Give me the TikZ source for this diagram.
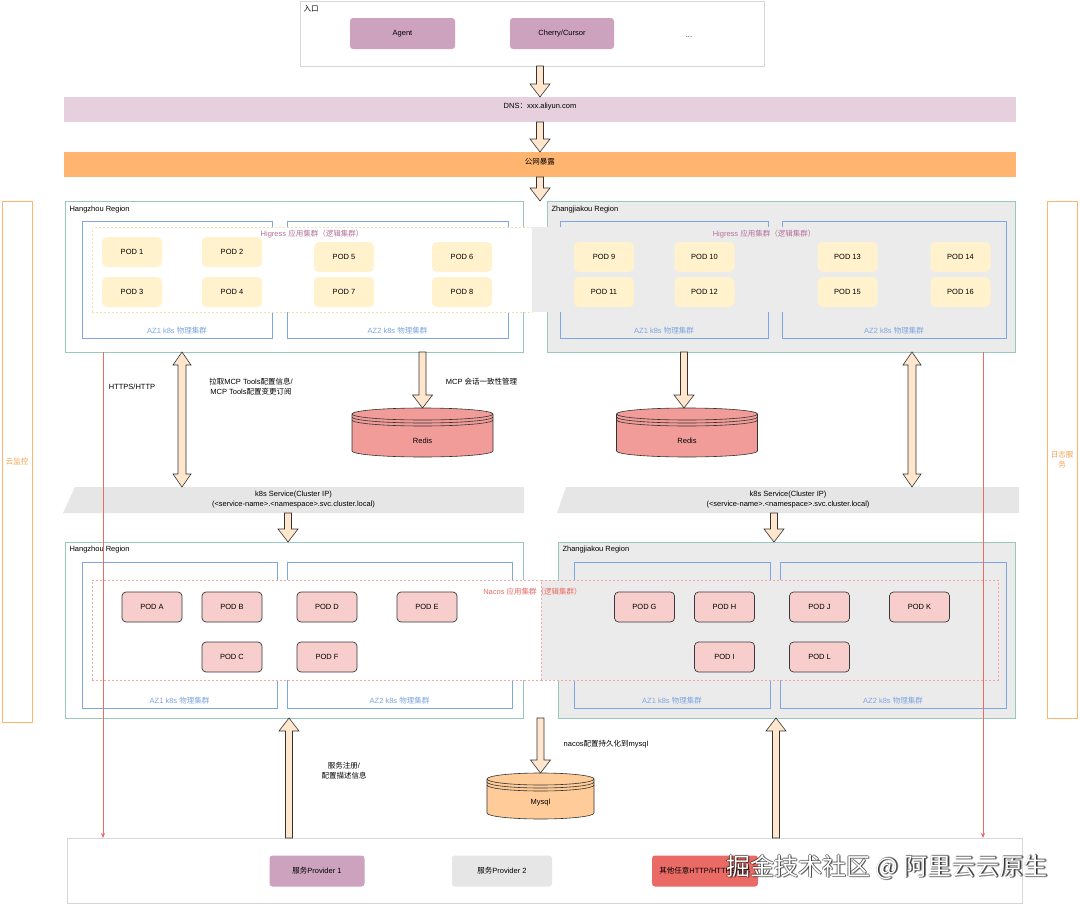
\documentclass[tikz,border=0pt]{standalone}
\usepackage{fontspec}
\setmainfont{Liberation Sans}
\newfontfamily\cjk{Noto Sans CJK SC}
\usetikzlibrary{calc,fit,arrows.meta}
\definecolor{purp}{HTML}{CDA2BE}
\definecolor{dnsc}{HTML}{E6D0DE}
\definecolor{orng}{HTML}{FFB570}
\definecolor{orngT}{HTML}{F2A24E}
\definecolor{regb}{HTML}{9AC7BF}
\definecolor{azb}{HTML}{7EA6E0}
\definecolor{podYc}{HTML}{FFF2CC}
\definecolor{podRc}{HTML}{F8CECC}
\definecolor{podRb}{HTML}{36393D}
\definecolor{grayF}{HTML}{E6E6E6}
\definecolor{regG}{HTML}{EBEBEB}
\definecolor{peach}{HTML}{FFE6CC}
\definecolor{arrowb}{HTML}{333333}
\definecolor{redisc}{HTML}{F19C99}
\definecolor{mysqlc}{HTML}{FFCC99}
\definecolor{redl}{HTML}{EA6B66}
\definecolor{higl}{HTML}{B5739D}
\definecolor{hidash}{HTML}{EEE3A8}
\definecolor{nacd}{HTML}{F4A6A6}
\definecolor{lightg}{HTML}{D6D6D6}
\newcommand\dstore[2]{%
  \filldraw[fill=#2, draw=arrowb, line width=0.6pt] let \p1=(#1.north west), \p2=(#1.south east), \n1={0.5*(\x2-\x1)} in
    (\x1,\y1-6pt) -- (\x1,\y2+6pt) arc[start angle=180, end angle=360, x radius=\n1, y radius=6pt]
    -- (\x2,\y1-6pt) arc[start angle=0, end angle=180, x radius=\n1, y radius=6pt] -- cycle;
  \draw[draw=arrowb, line width=0.6pt] let \p1=(#1.north west), \p2=(#1.south east), \n1={0.5*(\x2-\x1)} in
    (\x1,\y1-6pt) arc[start angle=180, end angle=360, x radius=\n1, y radius=6pt]
    (\x1,\y1-9pt) arc[start angle=180, end angle=360, x radius=\n1, y radius=6pt]
    (\x1,\y1-12pt) arc[start angle=180, end angle=360, x radius=\n1, y radius=6pt];
}
\begin{document}
\begin{tikzpicture}[x=1pt,y=-1pt,
  font=\fontsize{7.5}{10}\selectfont,
  rect/.style={rectangle, inner sep=0pt, outer sep=0pt},
  region/.style={rect, draw=regb, line width=0.8pt},
  azbox/.style={rect, draw=azb, line width=0.7pt},
  azlabel/.style={text=azb},
  podY/.style={rect, fill=podYc, rounded corners=5pt, minimum width=60pt, minimum height=30pt},
  podR/.style={rect, fill=podRc, draw=podRb, line width=0.7pt, rounded corners=4pt, minimum width=60pt, minimum height=30pt},
  btn/.style={rect, rounded corners=3pt, minimum width=95pt, minimum height=31pt},
  rail/.style={rect, draw=orng, line width=0.8pt, fill=white},
  fatstyle/.style={draw=arrowb, fill=peach, line width=0.6pt},
  fatdown/.style={fatstyle, to path={let \p1=(\tikztostart), \p2=(\tikztotarget) in
     (\x1-3.5pt,\y1) -- (\x1-3.5pt,\y2+13pt) -- (\x1-10pt,\y2+13pt) -- (\x1,\y2) -- (\x1+10pt,\y2+13pt) -- (\x1+3.5pt,\y2+13pt) -- (\x1+3.5pt,\y1) -- cycle}},
  fatup/.style={fatstyle, to path={let \p1=(\tikztostart), \p2=(\tikztotarget) in
     (\x1-3.5pt,\y1) -- (\x1-3.5pt,\y2-13pt) -- (\x1-10pt,\y2-13pt) -- (\x1,\y2) -- (\x1+10pt,\y2-13pt) -- (\x1+3.5pt,\y2-13pt) -- (\x1+3.5pt,\y1) -- cycle}},
  fatboth/.style={fatstyle, to path={let \p1=(\tikztostart), \p2=(\tikztotarget) in
     (\x1,\y1) -- (\x1+9pt,\y1-13pt) -- (\x1+4pt,\y1-13pt) -- (\x1+4pt,\y2+13pt) -- (\x1+9pt,\y2+13pt) -- (\x1,\y2)
     -- (\x1-9pt,\y2+13pt) -- (\x1-4pt,\y2+13pt) -- (\x1-4pt,\y1-13pt) -- (\x1-9pt,\y1-13pt) -- cycle}},
  redline/.style={draw=redl, line width=0.6pt, -{Stealth[length=5pt,width=4pt]}}
]
\useasboundingbox (0,0) rectangle (1080,905);
\fill[white] (0,0) rectangle (1080,905);

% column coordinates
\coordinate (colA) at (182,0);
\coordinate (colB) at (912,0);
\coordinate (colC) at (288,0);
\coordinate (colD) at (289,0);
\coordinate (colE) at (776,0);
\coordinate (colF) at (774,0);
\coordinate (colG) at (684,0);
\coordinate (redA) at (103,0);
\coordinate (redB) at (983,0);

% side rails
\node[rail, fit={(2,201) (32,722)}] (railL) {};
\node[text=orngT] at (railL.center) {\cjk 云监控};
\node[rail, fit={(1047,201) (1077,718)}] (railR) {};
\node[text=orngT, align=center] at (railR.center) {\cjk 日志服\\\cjk 务};

% entry
\node[rect, draw=lightg, line width=0.6pt, fill=white, fit={(300,1) (764,66)}] (entry) {};
\node[anchor=west] at (300,9) {\cjk 入口};
\node[btn, fill=purp, minimum width=105pt] (agent) at (402.5,33.5) {Agent};
\node[btn, fill=purp, minimum width=104pt] (cherry) at (562,33.5) {Cherry/Cursor};
\node (dots) at (689,37) {...};

% bars
\node[rect, fill=dnsc, fit={(64,97) (1016,122)}] (dns) {DNS{\cjk ：}xxx.aliyun.com};
\node[rect, fill=orng, fit={(64,152) (1016,177)}] (pub) {\cjk 公网暴露};

% upper regions
\node[region, fill=white, fit={(65,201) (523,352)}] (hzU) {};
\node[region, fill=regG, fit={(547,201) (1015,352)}] (zjU) {};
\node[azbox, fit={(82,221) (272,338)}] (hzUa1) {};
\node[azbox, fit={(287,221) (508,338)}] (hzUa2) {};
\node[azbox, fit={(560,221) (768,338)}] (zjUa1) {};
\node[azbox, fit={(782,221) (1006,338)}] (zjUa2) {};
\node[rect, fill=white, draw=hidash, line width=0.7pt, dash pattern=on 2pt off 2pt, fit={(92,227) (532,312)}] (higH) {};
\node[rect, fill=regG, fit={(532,227) (996,312)}] (higZ) {};
\node[text=higl] at (312,234) {Higress {\cjk 应用集群（逻辑集群）}};
\node[text=higl] at (764,234) {Higress {\cjk 应用集群（逻辑集群）}};
\node[azlabel] at (177,331) {AZ1 k8s {\cjk 物理集群}};
\node[azlabel] at (397.5,331) {AZ2 k8s {\cjk 物理集群}};
\node[azlabel] at (664,331) {AZ1 k8s {\cjk 物理集群}};
\node[azlabel] at (894,331) {AZ2 k8s {\cjk 物理集群}};
\node[anchor=west] at (66,210) {Hangzhou Region};
\node[anchor=west] at (548,210) {Zhangjiakou Region};

\node[podY] (p1) at (132,252) {POD 1};
\node[podY] (p2) at (232,252) {POD 2};
\node[podY] (p3) at (132,292) {POD 3};
\node[podY] (p4) at (232,292) {POD 4};
\node[podY] (p5) at (344,257) {POD 5};
\node[podY] (p6) at (462,257) {POD 6};
\node[podY] (p7) at (344,292) {POD 7};
\node[podY] (p8) at (462,292) {POD 8};
\node[podY] (p9) at (604,257) {POD 9};
\node[podY] (p10) at (704.5,257) {POD 10};
\node[podY] (p11) at (604,292) {POD 11};
\node[podY] (p12) at (704.5,292) {POD 12};
\node[podY] (p13) at (847.5,257) {POD 13};
\node[podY] (p14) at (960.5,257) {POD 14};
\node[podY] (p15) at (847.5,292) {POD 15};
\node[podY] (p16) at (960.5,292) {POD 16};

% top arrows
\draw[fatdown] (entry.south -| dns.north) to (dns.north);
\draw[fatdown] (dns.south) to (pub.north);
\draw[fatdown] (pub.south) to (hzU.north -| pub.south);

% redis
\node[rect, minimum width=141pt, minimum height=49pt] (redisL) at (422.5,432.5) {};
\dstore{redisL}{redisc}
\node at ($(redisL.center)+(0,8)$) {Redis};
\node[rect, minimum width=141pt, minimum height=49pt] (redisR) at (687,432.5) {};
\dstore{redisR}{redisc}
\node at ($(redisR.center)+(0,8)$) {Redis};

% k8s service bars
\fill[grayF] (75,487) -- (524,487) -- (524,513) -- (63,513) -- cycle;
\fill[grayF] (566,487) -- (1019,487) -- (1019,513) -- (557,513) -- cycle;
\node[rect, minimum width=461pt, minimum height=26pt, align=center] (svcL) at (293.5,500) {k8s Service(Cluster IP)\\(<service-name>.<namespace>.svc.cluster.local)};
\node[rect, minimum width=462pt, minimum height=26pt, align=center] (svcR) at (788,500) {k8s Service(Cluster IP)\\(<service-name>.<namespace>.svc.cluster.local)};

% middle arrows and labels
\draw[fatboth] (hzU.south -| colA) to (svcL.north -| colA);
\draw[fatdown] (hzU.south -| redisL.north) to (redisL.north);
\draw[fatdown] (zjU.south -| colG) to (redisR.north -| colG);
\draw[fatboth] (zjU.south -| colB) to (svcR.north -| colB);
\node (https) at (132,387) {HTTPS/HTTP};
\node[align=center] (pull) at (251,387) {{\cjk 拉取}MCP Tools{\cjk 配置信息}/\\MCP Tools{\cjk 配置变更订阅}};
\node (mcpss) at (481.5,382) {MCP {\cjk 会话一致性管理}};

% lower regions
\node[region, fill=white, fit={(65,542) (523,718)}] (hzL) {};
\node[region, fill=regG, fit={(558,542) (1015,718)}] (zjL) {};
\node[azbox, fit={(82,562) (277,708)}] (hzLa1) {};
\node[azbox, fit={(287,562) (512,708)}] (hzLa2) {};
\node[azbox, fit={(574,562) (770,708)}] (zjLa1) {};
\node[azbox, fit={(780,562) (1006,708)}] (zjLa2) {};
\node[rect, fill=white, draw=nacd, line width=0.7pt, dash pattern=on 2pt off 2pt, fit={(92,580) (541,680)}] (nacH) {};
\node[rect, fill=regG, draw=nacd, line width=0.7pt, dash pattern=on 2pt off 2pt, fit={(541,580) (998,680)}] (nacZ) {};
\node[text=redl] at (532.5,592) {Nacos {\cjk 应用集群（逻辑集群）}};
\node[azlabel] at (179.5,701) {AZ1 k8s {\cjk 物理集群}};
\node[azlabel] at (399.5,701) {AZ2 k8s {\cjk 物理集群}};
\node[azlabel] at (672,701) {AZ1 k8s {\cjk 物理集群}};
\node[azlabel] at (893,701) {AZ2 k8s {\cjk 物理集群}};
\node[anchor=west] at (66,550) {Hangzhou Region};
\node[anchor=west] at (559,550) {Zhangjiakou Region};

\node[podR] (pa) at (152,607) {POD A};
\node[podR] (pb) at (232,607) {POD B};
\node[podR] (pd) at (327,607) {POD D};
\node[podR] (pe) at (427,607) {POD E};
\node[podR] (pc) at (232,657) {POD C};
\node[podR] (pf) at (327,657) {POD F};
\node[podR] (pg) at (644.5,607) {POD G};
\node[podR] (ph) at (724.5,607) {POD H};
\node[podR] (pj) at (819.5,607) {POD J};
\node[podR] (pk) at (919.5,607) {POD K};
\node[podR] (pi) at (724.5,657) {POD I};
\node[podR] (pl) at (819.5,657) {POD L};

\draw[fatdown] (svcL.south -| colC) to (hzL.north -| colC);
\draw[fatdown] (svcR.south -| colF) to (zjL.north -| colF);

% bottom
\node[rect, draw=lightg, line width=0.6pt, fill=white, fit={(67,838) (1022,903)}] (btm) {};
\node[btn, fill=purp] (pv1) at (317,871) {{\cjk 服务}Provider 1};
\node[btn, fill=grayF, minimum width=100pt] (pv2) at (502,871) {{\cjk 服务}Provider 2};
\node[btn, fill=redl, minimum width=106pt] (pv3) at (705,871) {{\cjk 其他任意}HTTP/HTTPS{\cjk 服务}};

\node[rect, minimum width=107pt, minimum height=46pt] (mysql) at (540.5,796) {};
\dstore{mysql}{mysqlc}
\node at ($(mysql.center)+(0,7)$) {Mysql};

\draw[fatup] (btm.north -| colD) to (hzL.south -| colD);
\draw[fatup] (btm.north -| colE) to (zjL.south -| colE);
\draw[fatdown] (hzL.south -| mysql.north) to (mysql.north);
\node[align=center] (reg) at (344,771) {{\cjk 服务注册}/\\{\cjk 配置描述信息}};
\node (persist) at (606,744) {nacos{\cjk 配置持久化到}mysql};

% red lines
\draw[redline] (hzU.south -| redA) -- (btm.north -| redA);
\draw[redline] (zjU.south -| redB) -- (btm.north -| redB);

% watermark
\foreach \dx/\dy in {1/1,-0.6/0.6,0.6/-0.6,1.4/0.4} {
  \node[text=black, opacity=0.45, font=\cjk\fontsize{24}{24}\selectfont] at ($(887,867)+(\dx,\dy)$) {掘金技术社区 @ 阿里云云原生};
}
\node[text=white, font=\cjk\fontsize{24}{24}\selectfont] (wm) at (887,867) {掘金技术社区 @ 阿里云云原生};
\end{tikzpicture}
\end{document}
